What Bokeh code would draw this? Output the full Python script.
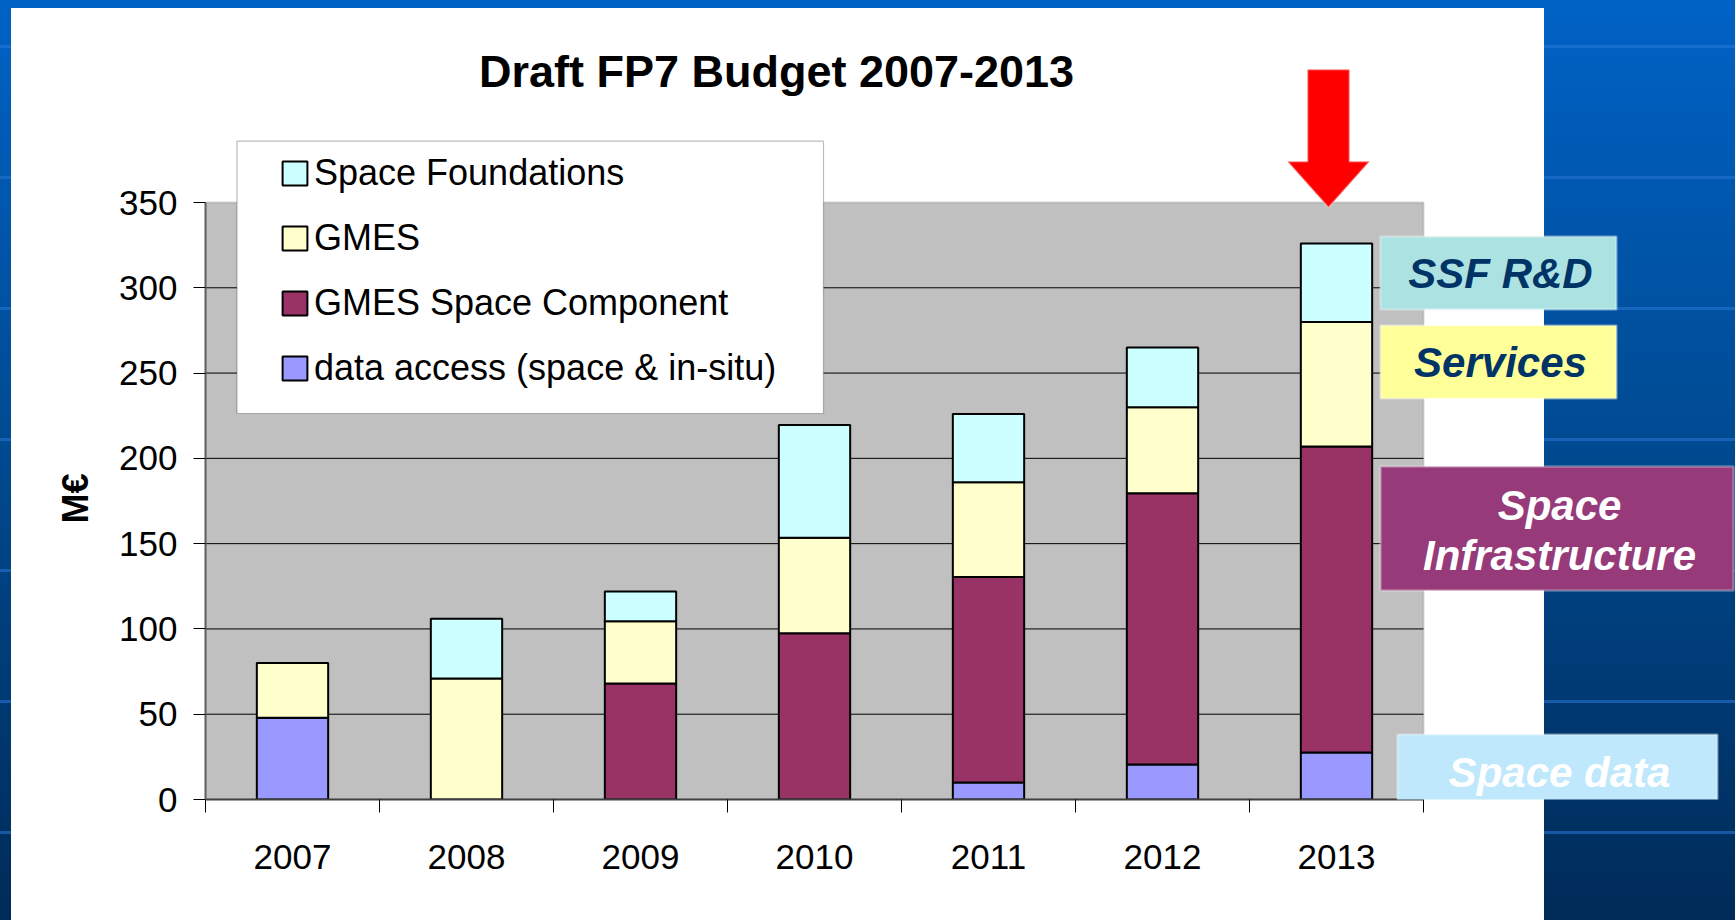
from bokeh.plotting import figure
from bokeh.models import (Range1d, FixedTicker, Legend, LegendItem, BoxAnnotation, Title,
                          PolyAnnotation, Label, ColumnDataSource, GlobalInlineStyleSheet)
from bokeh.embed import file_html
from bokeh.resources import INLINE

# ---------------- data ----------------
years = ["2007", "2008", "2009", "2010", "2011", "2012", "2013"]
data_access = [48, 0, 0, 0, 10, 20.5, 27.5]
gmes_space_component = [0, 0, 68, 97.5, 120.5, 159, 179.5]
gmes = [32, 71, 36.5, 56, 55.5, 50.5, 73]
space_foundations = [0, 35, 17.5, 66, 40, 35, 46]

series_keys = ["data_access", "gmes_space_component", "gmes", "space_foundations"]
series_labels = ["data access (space & in-situ)", "GMES Space Component", "GMES", "Space Foundations"]
series_colors = ["#9999FF", "#993366", "#FFFFCC", "#CCFFFF"]
y_ticks = [0, 50, 100, 150, 200, 250, 300, 350]
y_max = 350

FONT = "Liberation Sans"

# ---------------- geometry (page pixels) ----------------
W, H = 1735, 900
F_LEFT, F_BOTTOM = 205, 799            # plot-area origin (value 0, first category edge)
GREY_W, GREY_H = 1218, 597             # size of the grey plot area
FRAME_W, FRAME_H = W - F_LEFT, F_BOTTOM


def sx(ax):
    return ax - F_LEFT


def sy(ay):
    return F_BOTTOM - ay


n = len(years)
source = ColumnDataSource(dict(
    x=[i + 0.5 for i in range(n)],
    data_access=data_access,
    gmes_space_component=gmes_space_component,
    gmes=gmes,
    space_foundations=space_foundations,
))

p = figure(frame_width=FRAME_W, frame_height=FRAME_H,
           x_range=Range1d(0, n * FRAME_W / GREY_W),
           y_range=Range1d(0, y_max * FRAME_H / GREY_H),
           output_backend="svg", toolbar_location=None,
           min_border_left=F_LEFT, min_border_right=0,
           min_border_top=0, min_border_bottom=H - F_BOTTOM,
           border_fill_color=None, background_fill_color=None,
           outline_line_color=None)

p.stylesheets = [GlobalInlineStyleSheet(css="""
html {
  height: 100%;
  background:
    linear-gradient(#ffffff, #ffffff) 11px 8px / 1533px 1000px no-repeat,
    repeating-linear-gradient(to bottom, rgba(0,0,0,0) 0px, rgba(0,0,0,0) 45px,
        rgba(40,120,215,0.55) 45px, rgba(40,120,215,0.55) 48px,
        rgba(0,0,0,0) 48px, rgba(0,0,0,0) 131px),
    linear-gradient(to bottom, #0062c6 0px, #00498f 460px, #002b58 920px);
}
body { background: transparent; }
""")]

# grey plot area
p.add_layout(BoxAnnotation(left=0, right=n, bottom=0, top=y_max,
                           fill_color="#C0C0C0", fill_alpha=1,
                           line_color="#808080", line_width=2, level="underlay"))

# horizontal grid lines
grid_vals = [t for t in y_ticks if 0 < t < y_max]
p.segment(x0=[0] * len(grid_vals), x1=[n] * len(grid_vals), y0=grid_vals, y1=grid_vals,
          line_color="black", line_width=1)

# ---------------- bars ----------------
renderers = p.vbar_stack(series_keys, x="x", width=0.41, source=source,
                         fill_color=series_colors, line_color="black", line_width=2)

# ---------------- axes ----------------
p.xgrid.visible = False
p.ygrid.visible = False

p.yaxis.bounds = (0, y_max)
p.yaxis.ticker = FixedTicker(ticks=y_ticks)
p.yaxis.major_label_text_font = FONT
p.yaxis.major_label_text_font_size = "35px"
p.yaxis.major_label_text_color = "black"
p.yaxis.major_tick_out = 12
p.yaxis.major_tick_in = 0
p.yaxis.major_tick_line_color = "black"
p.yaxis.minor_tick_line_color = None
p.yaxis.major_label_standoff = 16
p.yaxis.axis_line_color = "#606060"
p.yaxis.axis_line_width = 2

# y-axis title, centred on the plotted value range (0..350)
p.add_layout(Title(text="M€", align="left", offset=276, vertical_align="middle",
                   standoff=40, text_font=FONT, text_font_style="bold",
                   text_font_size="36px", text_color="black"), "left")

p.xaxis.bounds = (0, n)
p.xaxis.ticker = FixedTicker(ticks=[i + 0.5 for i in range(n)],
                             minor_ticks=list(range(n + 1)))
p.xaxis.major_label_overrides = {i + 0.5: y for i, y in enumerate(years)}
p.xaxis.major_label_text_font = FONT
p.xaxis.major_label_text_font_size = "35px"
p.xaxis.major_label_text_color = "black"
p.xaxis.major_tick_line_color = None
p.xaxis.major_tick_out = 13
p.xaxis.major_tick_in = 0
p.xaxis.minor_tick_out = 13
p.xaxis.minor_tick_in = 0
p.xaxis.minor_tick_line_color = "black"
p.xaxis.minor_tick_line_width = 1
p.xaxis.major_label_standoff = 32
p.xaxis.axis_line_color = "#404040"
p.xaxis.axis_line_width = 2

# ---------------- legend ----------------
p.add_layout(BoxAnnotation(left=sx(236.5), right=sx(823), top=sy(140.7), bottom=sy(413),
                           left_units="screen", right_units="screen",
                           top_units="screen", bottom_units="screen",
                           fill_color="white", fill_alpha=1,
                           line_color="#202020", line_width=1.2))

items = [LegendItem(label=lab, renderers=[r]) for lab, r in zip(series_labels, renderers)]
legend = Legend(items=items[::-1], location=(sx(264), sy(404.4)),
                label_text_font=FONT, label_text_font_size="36px",
                label_text_color="black",
                glyph_width=31, glyph_height=30, label_height=40,
                spacing=23, padding=15, label_standoff=4, margin=0,
                background_fill_alpha=0, border_line_alpha=0)
p.add_layout(legend, "center")

# ---------------- title ----------------
p.add_layout(Label(x=sx(776), y=sy(71), x_units="screen", y_units="screen",
                   text="Draft FP7 Budget 2007-2013", text_font=FONT,
                   text_font_style="bold", text_font_size="45px",
                   text_align="center", text_baseline="middle", text_color="black"))

# ---------------- red arrow ----------------
arrow_x = [1307, 1349, 1349, 1369, 1328, 1287, 1307]
arrow_y = [69, 69, 161, 161, 207, 161, 161]
p.add_layout(PolyAnnotation(xs=[sx(v) for v in arrow_x], ys=[sy(v) for v in arrow_y],
                            xs_units="screen", ys_units="screen",
                            fill_color="#FF0000", fill_alpha=1,
                            line_color="white", line_width=2))

# ---------------- side boxes ----------------
boxes = [
    (1380, 1616, 236, 309, "#ADE2E2"),
    (1380, 1616, 325, 398, "#FFFF99"),
    (1380, 1733, 466, 590, "#963A7A"),
    (1397, 1717, 734, 807, "#C0E8FC"),
]
for l, r, t, b, c in boxes:
    p.add_layout(BoxAnnotation(left=sx(l), right=sx(r), top=sy(t), bottom=sy(b),
                               left_units="screen", right_units="screen",
                               top_units="screen", bottom_units="screen",
                               fill_color=c, fill_alpha=1,
                               line_color="white", line_width=2.5))

texts = [
    (1500, 273, "SSF R&D", "#003366"),
    (1500, 362, "Services", "#003366"),
    (1559, 505, "Space", "white"),
    (1559, 555, "Infrastructure", "white"),
    (1559, 772, "Space data", "white"),
]
for cx, cy, t, c in texts:
    p.add_layout(Label(x=sx(cx), y=sy(cy), x_units="screen", y_units="screen",
                       text=t, text_font=FONT, text_font_style="bold italic",
                       text_font_size="42px", text_color=c,
                       text_align="center", text_baseline="middle"))

open("out.html", "w").write(file_html(p, INLINE))
